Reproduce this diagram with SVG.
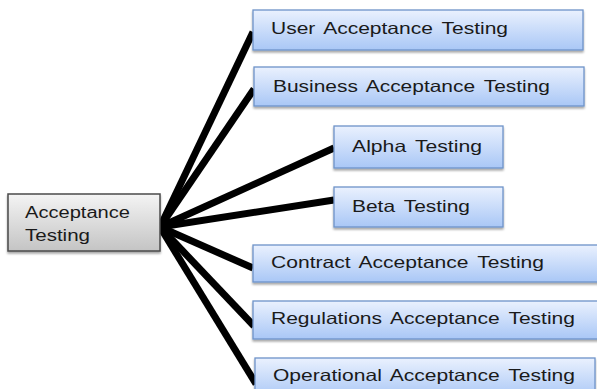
<svg xmlns="http://www.w3.org/2000/svg" width="597" height="389" viewBox="0 0 597 389">
  <defs>
    <linearGradient id="blueFill" x1="0" y1="0" x2="0" y2="1">
      <stop offset="0" stop-color="#eaf1fe"/>
      <stop offset="1" stop-color="#a9c7f6"/>
    </linearGradient>
    <linearGradient id="greyFill" x1="0" y1="0" x2="0" y2="1">
      <stop offset="0" stop-color="#f4f4f4"/>
      <stop offset="1" stop-color="#c4c4c4"/>
    </linearGradient>
    <filter id="shadow" x="-5%" y="-10%" width="110%" height="130%">
      <feGaussianBlur in="SourceAlpha" stdDeviation="1.2"/>
      <feOffset dx="0" dy="2" result="b"/>
      <feComponentTransfer><feFuncA type="linear" slope="0.35"/></feComponentTransfer>
      <feMerge><feMergeNode/><feMergeNode in="SourceGraphic"/></feMerge>
    </filter>
    <filter id="soft"><feGaussianBlur stdDeviation="0.5"/></filter>
  </defs>
  <style>
    .leaf rect { fill: url(#blueFill); stroke: #6e93c9; stroke-width: 1.3; filter: url(#shadow); }
    .root rect { fill: url(#greyFill); stroke: #4a4a4a; stroke-width: 1.5; filter: url(#shadow); }
    text { font-family: "Liberation Sans", Arial, sans-serif; fill: #1a1a1a; word-spacing: 2.5px; }
    .leaf text { font-size: 16.5px; }
    .root text { font-size: 16px; }
    .links line { stroke: #000; stroke-width: 7; stroke-linecap: butt; }
  </style>

  <!-- connectors fanning out from the root node -->
  <g id="connectors" class="links" filter="url(#soft)">
    <line x1="160" y1="227" x2="253" y2="32"/>
    <line x1="160" y1="227" x2="254" y2="89"/>
    <line x1="160" y1="227" x2="334" y2="148"/>
    <line x1="160" y1="227" x2="334" y2="200"/>
    <line x1="160" y1="227" x2="253" y2="268"/>
    <line x1="160" y1="227" x2="254" y2="326"/>
    <line x1="160" y1="227" x2="256" y2="384"/>
  </g>

  <g id="acceptance-testing" class="root">
    <rect x="8" y="194" width="152" height="57"/>
    <text x="25" y="218" textLength="105" lengthAdjust="spacingAndGlyphs">Acceptance</text>
    <text x="25" y="241" textLength="65" lengthAdjust="spacingAndGlyphs">Testing</text>
  </g>

  <g id="user-acceptance" class="leaf">
    <rect x="253" y="10" width="330" height="40"/>
    <text x="271" y="34" textLength="237" lengthAdjust="spacingAndGlyphs">User Acceptance Testing</text>
  </g>
  <g id="business-acceptance" class="leaf">
    <rect x="254" y="67" width="330" height="39"/>
    <text x="273" y="92" textLength="277" lengthAdjust="spacingAndGlyphs">Business Acceptance Testing</text>
  </g>
  <g id="alpha" class="leaf">
    <rect x="334" y="126" width="169" height="42"/>
    <text x="352" y="152" textLength="130" lengthAdjust="spacingAndGlyphs">Alpha Testing</text>
  </g>
  <g id="beta" class="leaf">
    <rect x="334" y="187" width="169" height="40"/>
    <text x="352" y="212" textLength="118" lengthAdjust="spacingAndGlyphs">Beta Testing</text>
  </g>
  <g id="contract-acceptance" class="leaf">
    <rect x="253" y="245" width="350" height="37"/>
    <text x="271" y="268" textLength="273" lengthAdjust="spacingAndGlyphs">Contract Acceptance Testing</text>
  </g>
  <g id="regulations-acceptance" class="leaf">
    <rect x="253" y="301" width="350" height="38"/>
    <text x="271" y="324" textLength="304" lengthAdjust="spacingAndGlyphs">Regulations Acceptance Testing</text>
  </g>
  <g id="operational-acceptance" class="leaf">
    <rect x="255" y="358" width="340" height="40"/>
    <text x="273" y="381" textLength="302" lengthAdjust="spacingAndGlyphs">Operational Acceptance Testing</text>
  </g>
</svg>
